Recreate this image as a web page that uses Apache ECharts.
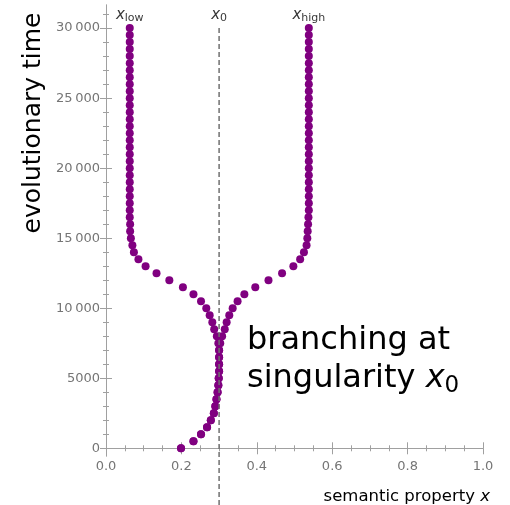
<!DOCTYPE html>
<html>
<head>
<meta charset="utf-8">
<script src="https://cdn.jsdelivr.net/npm/echarts@6/dist/echarts.min.js"></script>
<style>
  html, body { margin: 0; padding: 0; background: #fff; }
  #chart { width: 510px; height: 505px; }
</style>
</head>
<body>
<div id="chart"></div>
<script>
// evolutionary time of each sample
var times = [0, 500, 1000, 1500, 2000, 2500, 3000, 3500, 4000, 4500,
  5000, 5500, 6000, 6500, 7000, 7500, 8000, 8500, 9000, 9500,
  10000, 10500, 11000, 11500, 12000, 12500, 13000, 13500, 14000, 14500,
  15000, 15500, 16000, 16500, 17000, 17500, 18000, 18500, 19000, 19500,
  20000, 20500, 21000, 21500, 22000, 22500, 23000, 23500, 24000, 24500,
  25000, 25500, 26000, 26500, 27000, 27500, 28000, 28500, 29000, 29500, 30000];

// semantic property of the lower branch (trunk before branching)
var lowBranch = [0.199, 0.232, 0.252, 0.268, 0.278, 0.286, 0.290, 0.293, 0.296, 0.298,
  0.299, 0.300, 0.300, 0.300, 0.300, 0.298, 0.294, 0.287, 0.282, 0.275,
  0.266, 0.252, 0.232, 0.204, 0.168, 0.134, 0.105, 0.086, 0.074, 0.070,
  0.066, 0.064, 0.064, 0.063, 0.063, 0.063, 0.063, 0.063, 0.063, 0.063,
  0.063, 0.063, 0.063, 0.063, 0.063, 0.063, 0.063, 0.063, 0.063, 0.063,
  0.063, 0.063, 0.063, 0.063, 0.063, 0.063, 0.063, 0.063, 0.063, 0.063, 0.063];

// semantic property of the upper branch
var highBranch = [0.199, 0.232, 0.252, 0.268, 0.278, 0.286, 0.290, 0.293, 0.296, 0.298,
  0.299, 0.300, 0.300, 0.300, 0.300, 0.303, 0.308, 0.315, 0.320, 0.327,
  0.336, 0.349, 0.367, 0.396, 0.431, 0.467, 0.497, 0.515, 0.525, 0.532,
  0.534, 0.535, 0.536, 0.537, 0.538, 0.538, 0.538, 0.538, 0.538, 0.538,
  0.538, 0.538, 0.538, 0.538, 0.538, 0.538, 0.538, 0.538, 0.538, 0.538,
  0.538, 0.538, 0.538, 0.538, 0.538, 0.538, 0.538, 0.538, 0.538, 0.538, 0.538];

var singularity = 0.3;
var singularityLine = [30000, -4100];   // dashed line runs past the frame

var xMajorTicks = [0, 0.2, 0.4, 0.6, 0.8, 1.0];
var xMinorTicks = [0.05, 0.1, 0.15, 0.25, 0.3, 0.35, 0.45, 0.5, 0.55, 0.65, 0.7, 0.75, 0.85, 0.9, 0.95];
var yMajorTicks = [0, 5000, 10000, 15000, 20000, 25000, 30000];
var yMinorTicks = [1000, 2000, 3000, 4000, 6000, 7000, 8000, 9000, 11000, 12000, 13000, 14000,
  16000, 17000, 18000, 19000, 21000, 22000, 23000, 24000, 26000, 27000, 28000, 29000, 31000];

var branchLabels = ['low', '0', 'high'];

var FONT = 'DejaVu Sans';
var FRAME = '#a0a0a0';
var LABEL = '#757575';
var PURPLE = '#800080';

function zip(xs, ys) {
  var out = [];
  for (var i = 0; i < xs.length; i++) out.push([xs[i], ys[i]]);
  return out;
}

function yFormat(v) {
  var s = String(v);
  if (v >= 10000) s = s.slice(0, s.length - 3) + '\u2009' + s.slice(s.length - 3);
  return s;
}

// one axis per tick size and side, so the frame gets ticks everywhere
function makeAxis(dim, position, ticks, len, withLabel, withLine) {
  var ax = {
    type: 'value',
    position: position,
    splitLine: { show: false },
    axisLine: { show: withLine, lineStyle: { color: FRAME, width: 1 } },
    axisTick: {
      show: true, inside: true, length: len,
      customValues: ticks,
      lineStyle: { color: FRAME, width: 1 }
    },
    axisLabel: {
      show: withLabel,
      customValues: ticks,
      color: LABEL,
      fontFamily: FONT,
      fontSize: 13
    }
  };
  if (dim === 'x') {
    ax.min = 0; ax.max = 1;
    ax.axisLabel.margin = 4;
    ax.axisLabel.formatter = function (v) { return v.toFixed(1); };
  } else {
    ax.min = -550; ax.max = 31650;
    ax.axisLabel.margin = 6;
    ax.axisLabel.formatter = yFormat;
  }
  return ax;
}

var chart = echarts.init(document.getElementById('chart'), null, { renderer: 'canvas' });

var option = {
  animation: false,
  backgroundColor: '#fff',
  grid: { left: 106, right: 27, top: 5, bottom: 49, containLabel: false },
  xAxis: [
    makeAxis('x', 'bottom', xMajorTicks, 6, true, true),
    makeAxis('x', 'bottom', xMinorTicks, 3, false, false),
    makeAxis('x', 'top', xMajorTicks, 6, false, true),
    makeAxis('x', 'top', xMinorTicks, 3, false, false)
  ],
  yAxis: [
    makeAxis('y', 'left', yMajorTicks, 6, true, true),
    makeAxis('y', 'left', yMinorTicks, 3, false, false),
    makeAxis('y', 'right', yMajorTicks, 6, false, true),
    makeAxis('y', 'right', yMinorTicks, 3, false, false)
  ],
  series: [
    {
      type: 'scatter', name: 'low',
      data: zip(lowBranch, times),
      symbolSize: 8,
      itemStyle: { color: PURPLE, opacity: 1 },
      z: 2
    },
    {
      type: 'scatter', name: 'high',
      data: zip(highBranch, times),
      symbolSize: 8,
      itemStyle: { color: PURPLE, opacity: 1 },
      z: 2
    },
    {
      type: 'line', name: 'singularity',
      data: zip([singularity, singularity], singularityLine),
      showSymbol: false, symbol: 'none',
      clip: false,
      lineStyle: { color: '#707070', width: 1.5, type: [5, 3] },
      z: 3
    },
    {
      type: 'scatter', name: 'labels',
      data: zip([lowBranch[lowBranch.length - 1], singularity, highBranch[highBranch.length - 1]],
                [times[times.length - 1], times[times.length - 1], times[times.length - 1]]),
      symbolSize: 0,
      clip: false,
      silent: true,
      label: {
        show: true,
        position: 'top',
        distance: 4,
        formatter: function (p) { return '{x|x}{s|' + branchLabels[p.dataIndex] + '}'; },
        rich: {
          x: { fontFamily: FONT, fontStyle: 'italic', fontSize: 15, lineHeight: 18, color: '#000' },
          s: { fontFamily: FONT, fontSize: 11, lineHeight: 9, verticalAlign: 'bottom', color: '#000' }
        }
      },
      z: 4
    }
  ],
  graphic: [
    {
      type: 'text',
      x: 33, y: 123,
      rotation: Math.PI / 2,
      style: {
        text: 'evolutionary time',
        fontFamily: FONT, fontSize: 25, fill: '#000',
        align: 'center', verticalAlign: 'middle'
      }
    },
    {
      type: 'text',
      x: 490, y: 497,
      style: {
        text: 'semantic property {i|x}',
        fontFamily: FONT, fontSize: 16.5, fill: '#000',
        align: 'right', verticalAlign: 'middle',
        rich: { i: { fontFamily: FONT, fontStyle: 'italic', fontSize: 16.5, fill: '#000' } }
      }
    },
    {
      type: 'text',
      x: 247, y: 322,
      style: {
        text: 'branching at\nsingularity {x|x}{s|0}',
        fontFamily: FONT, fontSize: 32, lineHeight: 38, fill: '#000',
        align: 'left', verticalAlign: 'top',
        rich: {
          x: { fontFamily: FONT, fontStyle: 'italic', fontSize: 32, lineHeight: 38, fill: '#000' },
          s: { fontFamily: FONT, fontSize: 23, lineHeight: 20, verticalAlign: 'bottom', fill: '#000' }
        }
      }
    }
  ]
};

chart.setOption(option);
</script>
</body>
</html>
